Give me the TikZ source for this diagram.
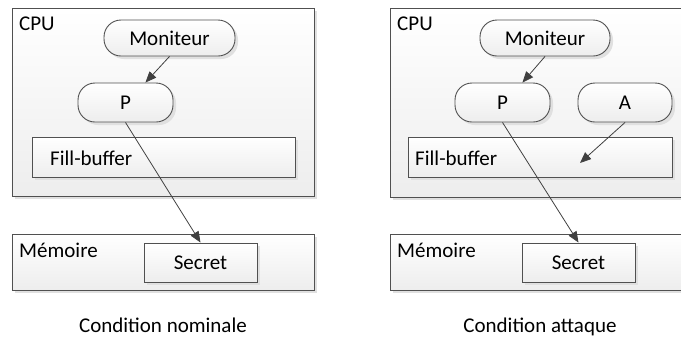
\documentclass[tikz,border=0pt]{standalone}
\usepackage{fontspec}
\setmainfont{Carlito}
\usetikzlibrary{arrows.meta,shadows}
\definecolor{edge}{HTML}{505050}
\definecolor{arr}{HTML}{404040}
\tikzset{
  box/.style={draw=edge, line width=0.9bp, top color=white, bottom color=black!7,
    drop shadow={shadow xshift=3bp, shadow yshift=-3bp, fill=black!12, opacity=1},
    inner sep=0pt, rectangle},
  pill/.style={box, rounded corners=17bp},
  lbl/.style={font=\fontsize{21bp}{24bp}\selectfont, inner sep=0pt},
  conn/.style={draw=arr, line width=0.8bp, -{Triangle[length=11bp,width=9bp]}}
}
\begin{document}
\begin{tikzpicture}[x=1bp,y=-1bp]
\clip (0,0) rectangle (681,340);
% ---------- left panel ----------
\node[box, minimum width=302bp, minimum height=188bp] (cpuA) at (163,102) {};
\node[lbl, anchor=base west] (cpuAl) at (19,30) {CPU};
\node[pill, minimum width=131bp, minimum height=36bp, lbl] (monA) at (169.5,38) {Moniteur};
\node[pill, minimum width=95bp, minimum height=39bp, lbl] (pA) at (125.5,102.5) {P};
\node[box, minimum width=263bp, minimum height=40bp] (fbA) at (163.5,157) {};
\node[lbl, anchor=base west] (fbAl) at (50,165) {Fill-buffer};
\node[box, minimum width=302bp, minimum height=56bp] (memA) at (163,262) {};
\node[lbl, anchor=base west] (memAl) at (19,257) {Mémoire};
\node[box, minimum width=113bp, minimum height=39bp, lbl] (secA) at (200.5,262.5) {Secret};
\draw[conn] (monA.south) -- (pA.45);
\draw[conn] (pA.south) -- (secA.north);
\node[lbl, anchor=base] (capA) at (163,332) {Condition nominale};
% ---------- right panel ----------
\node[box, minimum width=310bp, minimum height=189bp] (cpuB) at (545,102.5) {};
\node[lbl, anchor=base west] (cpuBl) at (397,30) {CPU};
\node[pill, minimum width=130bp, minimum height=36bp, lbl] (monB) at (545,38) {Moniteur};
\node[pill, minimum width=95bp, minimum height=39bp, lbl] (pB) at (502.5,102.5) {P};
\node[pill, minimum width=94bp, minimum height=39bp, lbl] (aB) at (625,102.5) {A};
\node[box, minimum width=264bp, minimum height=40bp] (fbB) at (540,157) {};
\node[lbl, anchor=base west] (fbBl) at (415,165) {Fill-buffer};
\node[box, minimum width=310bp, minimum height=56bp] (memB) at (545,262) {};
\node[lbl, anchor=base west] (memBl) at (397,257) {Mémoire};
\node[box, minimum width=113bp, minimum height=39bp, lbl] (secB) at (578.5,262.5) {Secret};
\coordinate (fbBt) at (580,163);
\draw[conn] (monB.south) -- (pB.45);
\draw[conn] (pB.south) -- (secB.north);
\draw[conn] (aB.south) -- (fbBt);
\node[lbl, anchor=base] (capB) at (540,332) {Condition attaque};
\end{tikzpicture}
\end{document}
